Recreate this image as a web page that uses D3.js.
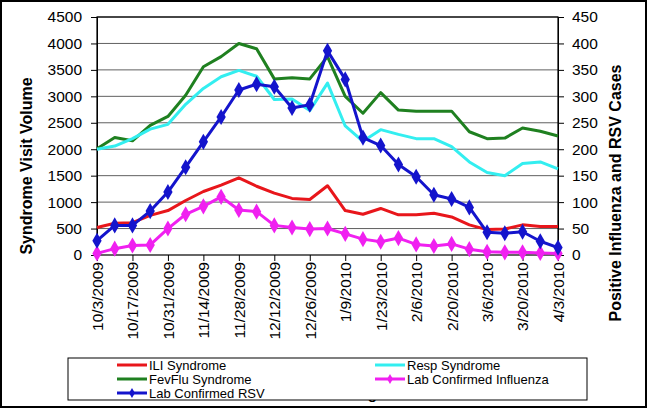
<!DOCTYPE html>
<html><head><meta charset="utf-8">
<script src="https://cdn.jsdelivr.net/npm/d3@7"></script>
<style>body{margin:0;background:#fff}svg{display:block;font-family:"Liberation Sans",Arial,sans-serif}</style>
</head><body>
<svg id="c" width="650" height="409"></svg>
<script>
const weeks = ["10/3/2009","10/10/2009","10/17/2009","10/24/2009","10/31/2009","11/7/2009","11/14/2009","11/21/2009","11/28/2009","12/5/2009","12/12/2009","12/19/2009","12/26/2009","1/2/2010","1/9/2010","1/16/2010","1/23/2010","1/30/2010","2/6/2010","2/13/2010","2/20/2010","2/27/2010","3/6/2010","3/13/2010","3/20/2010","3/27/2010","4/3/2010"];
const iliSyndrome = [520,600,610,750,840,1030,1200,1320,1460,1300,1170,1070,1050,1310,840,770,880,760,760,790,720,570,480,490,570,540,540];
const respSyndrome = [2000,2060,2200,2380,2470,2850,3150,3370,3490,3380,2940,2950,2730,3250,2440,2150,2370,2280,2200,2200,2050,1760,1560,1500,1730,1760,1630];
const fevFluSyndrome = [2010,2220,2160,2450,2620,3020,3560,3750,4000,3900,3330,3350,3330,3750,3000,2680,3070,2740,2720,2720,2720,2330,2200,2210,2400,2340,2250];
const labInfluenza = [3,12,18,19,50,77,92,110,85,82,56,52,49,50,40,30,25,32,20,17,21,11,6,5,5,4,3];
const labRSV = [27,56,56,83,119,166,214,261,312,323,318,278,284,386,332,222,207,171,148,114,106,90,43,41,44,26,14];
const leftTicks = [0,500,1000,1500,2000,2500,3000,3500,4000,4500];
const rightTicks = [0,50,100,150,200,250,300,350,400,450];

const svg = d3.select("#c");
const L = 97, R = 558, T = 17, B = 255;
const x = d3.scalePoint().domain(weeks).range([L, R]).padding(0);
const yL = d3.scaleLinear().domain([0, 4500]).range([B, T]);
const yR = d3.scaleLinear().domain([0, 450]).range([B, T]);

// outer border
svg.append("rect").attr("x",1).attr("y",1).attr("width",645).attr("height",406)
  .attr("fill","#fff").attr("stroke","#000").attr("stroke-width",2);

// gridlines
svg.append("g").selectAll("line").data(leftTicks.slice(1)).join("line")
  .attr("x1",L).attr("x2",R).attr("y1",d=>yL(d)).attr("y2",d=>yL(d))
  .attr("stroke","#606060").attr("stroke-width",1);

// plot border
svg.append("rect").attr("x",L).attr("y",T).attr("width",R-L).attr("height",B-T)
  .attr("fill","none").attr("stroke","#000").attr("stroke-width",1.2);

// axes
const fs = "15.5px";
const gl = svg.append("g").attr("transform",`translate(${L},0)`)
  .call(d3.axisLeft(yL).tickValues(leftTicks).tickFormat(d3.format("d")).tickSize(6).tickPadding(9));
const gr = svg.append("g").attr("transform",`translate(${R},0)`)
  .call(d3.axisRight(yR).tickValues(rightTicks).tickFormat(d3.format("d")).tickSize(6).tickPadding(8));
const xTickVals = weeks.filter((d,i)=>i%2===0);
const gx = svg.append("g").attr("transform",`translate(0,${B})`)
  .call(d3.axisBottom(x).tickValues(xTickVals).tickSize(6).tickPadding(4));
[gl,gr,gx].forEach(g=>{
  g.select(".domain").attr("stroke","#000");
  g.selectAll(".tick line").attr("stroke","#000");
  g.selectAll("text").attr("font-size",fs).attr("fill","#000").attr("font-family","Liberation Sans, Arial, sans-serif");
});
gx.select(".domain").remove();
gx.selectAll(".tick text").attr("transform","rotate(-90)").attr("text-anchor","end")
  .attr("dx","-7").attr("dy","0.35em").attr("x",0).attr("y",0);

// axis titles
svg.append("text").attr("transform","translate(32,166) rotate(-90)").attr("text-anchor","middle")
  .attr("font-weight","bold").attr("font-size","16px").text("Syndrome Visit Volume");
svg.append("text").attr("transform","translate(621,193) rotate(-90)").attr("text-anchor","middle")
  .attr("font-weight","bold").attr("font-size","16px").text("Positive Influenza and RSV Cases");
svg.append("text").attr("x",330).attr("y",399).attr("text-anchor","middle")
  .attr("font-weight","bold").attr("font-size","15px").text("Week Ending");

// series
const series = [
  {name:"ILI Syndrome", vals:iliSyndrome, y:yL, color:"#e8161b", marker:false},
  {name:"Resp Syndrome", vals:respSyndrome, y:yL, color:"#33eef0", marker:false},
  {name:"FevFlu Syndrome", vals:fevFluSyndrome, y:yL, color:"#1f8020", marker:false},
  {name:"Lab Confirmed Influenza", vals:labInfluenza, y:yR, color:"#f020f0", marker:true},
  {name:"Lab Confirmed RSV", vals:labRSV, y:yR, color:"#1414cc", marker:true}
];
const drawOrder = [2,1,0,3,4];
const diamond = d3.symbol().type(d3.symbolDiamond).size(75);
drawOrder.forEach(k=>{
  const s = series[k];
  const line = d3.line().x((d,i)=>x(weeks[i])).y(d=>s.y(d));
  svg.append("path").datum(s.vals).attr("d",line).attr("fill","none")
    .attr("stroke",s.color).attr("stroke-width",3).attr("stroke-linejoin","round");
  if (s.marker) {
    svg.append("g").selectAll("path").data(s.vals).join("path")
      .attr("d",diamond).attr("fill",s.color)
      .attr("transform",(d,i)=>`translate(${x(weeks[i])},${s.y(d)})`);
  }
});

// legend
const lg = svg.append("g");
lg.append("rect").attr("x",68).attr("y",358).attr("width",519).attr("height",42)
  .attr("fill","#fff").attr("stroke","#000").attr("stroke-width",1);
const legPos = [[117,365],[375,365],[117,379],[375,379],[117,393]];
series.forEach((s,i)=>{
  const [lx,ly] = legPos[i];
  lg.append("line").attr("x1",lx).attr("x2",lx+30).attr("y1",ly).attr("y2",ly)
    .attr("stroke",s.color).attr("stroke-width",3);
  if (s.marker) lg.append("path").attr("d",d3.symbol().type(d3.symbolDiamond).size(30))
    .attr("fill",s.color).attr("transform",`translate(${lx+15},${ly})`);
  lg.append("text").attr("x",lx+32).attr("y",ly).attr("dy","0.35em")
    .attr("font-size","13px").text(s.name);
});
</script>
</body></html>
